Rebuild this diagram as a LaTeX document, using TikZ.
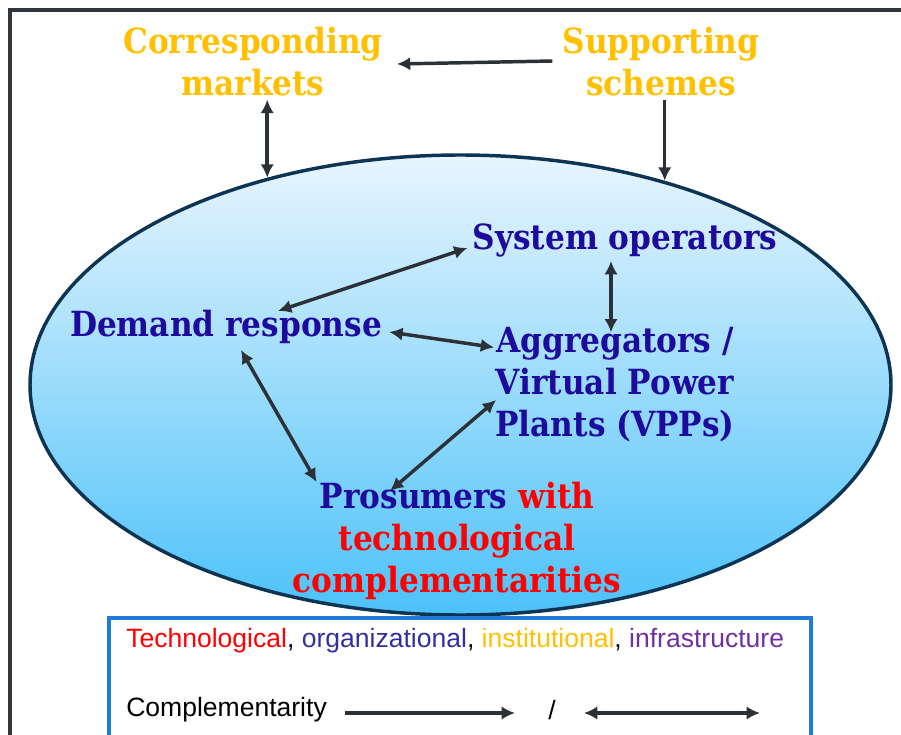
\documentclass[tikz,border=0pt]{standalone}
\usepackage{fontspec}
\setmainfont{Liberation Sans}
\newfontfamily\slab{DejaVu Serif Condensed Bold}
\usetikzlibrary{%
  arrows.meta,%
  shapes.geometric,% wg. ellipse
  calc%
}

\definecolor{gold}{HTML}{FFC000}
\definecolor{navy}{HTML}{1F0A9E}
\definecolor{techred}{HTML}{FF0000}
\definecolor{orgblue}{HTML}{3030A0}
\definecolor{infrapurple}{HTML}{7030A0}
\definecolor{arrowgray}{HTML}{2B3137}
\definecolor{framegray}{HTML}{30363C}
\definecolor{rimblue}{HTML}{0D3453}
\definecolor{skytop}{HTML}{E8F5FE}
\definecolor{skybot}{HTML}{4CC2F9}
\definecolor{legblue}{HTML}{1F7BD6}

\tikzset{
  tip/.tip={Latex[length=10pt,width=10pt]},
  arr/.style={draw=arrowgray, line width=2.6pt, -tip},
  darr/.style={arr, tip-tip},
  head/.style={font=\slab\fontsize{26}{31.5}\selectfont, text=gold, align=center, inner sep=0pt},
  actor/.style={font=\slab\fontsize{26}{31.5}\selectfont, text=navy, align=center, inner sep=0pt},
  legtext/.style={font=\fontsize{19.9}{23}\selectfont, inner sep=0pt}
}

\begin{document}
\begin{tikzpicture}[x=0.75pt,y=-0.75pt]
    \useasboundingbox (0,0) rectangle (901,735);
    \clip (0,0) rectangle (901,735);

    %outer frame
    \draw[framegray, line width=3pt] (10,10) rectangle (912,748);

    %the system
    \node[ellipse, draw=rimblue, line width=2.6pt, top color=skytop, bottom color=skybot,
          minimum width=645.75pt, minimum height=345pt, inner sep=0pt] (sys) at (460.5,385) {};

    %outside the system
    \node[head] (corr) at (253,62) {Corresponding\\markets};
    \node[head] (supp) at (661,62) {Supporting\\schemes};

    %actors inside
    \node[actor] (sysop) at (625,240) {System operators};
    \node[actor] (dr) at (226,327) {Demand response};
    \node[actor] (agg) at (615,385) {Aggregators /\\Virtual Power\\Plants (VPPs)};
    \node[actor] (pros) at (457,541) {Prosumers \textcolor{techred}{with}\\
      \textcolor{techred}{technological}\\\textcolor{techred}{complementarities}};

    %links from outside
    \draw[arr] ($(supp.west)+(-10,-1)$) -- ($(corr.east)+(14,2)$);
    \draw[darr] ($(sys.133.5 |- corr.south)+(0,3)$) -- (sys.133.5);
    \draw[arr] ($(sys.45.4 |- supp.south)+(0,3)$) -- (sys.45.4);

    %links between actors
    \draw[darr] ($(dr.north)+(52,1)$) -- ($(sysop.west)+(-5,8)$);
    \draw[darr] ($(dr.east)+(7,5)$) -- ($(agg.north west)+(-1,20)$);
    \draw[darr] ($(sysop.south)+(-14,4)$) -- ($(agg.north)+(-4,5)$);
    \draw[darr] ($(dr.south)+(15,6)$) -- ($(pros.north west)+(24,0)$);
    \draw[darr] ($(agg.west)+(1,15)$) -- ($(pros.north)+(-67,9)$);

    %legend
    \draw[legblue, line width=2.4pt] (109,618) rectangle (811,760);
    \node[legtext, anchor=west] (kinds) at (126,641) {\textcolor{techred}{Technological},
      \textcolor{orgblue}{organizational}, \textcolor{gold}{institutional},
      \textcolor{infrapurple}{infrastructure}};
    \node[legtext, anchor=west] (comp) at (126,710) {Complementarity};
    \node[legtext] (slash) at (552,710) {/};
    \coordinate (onewayend) at (515,713);
    \coordinate (twowayend) at (760,713);
    \draw[arr] ($(comp.east)+(18,3)$) -- (onewayend);
    \draw[darr] ($(slash.east)+(28,3)$) -- (twowayend);
\end{tikzpicture}
\end{document}
